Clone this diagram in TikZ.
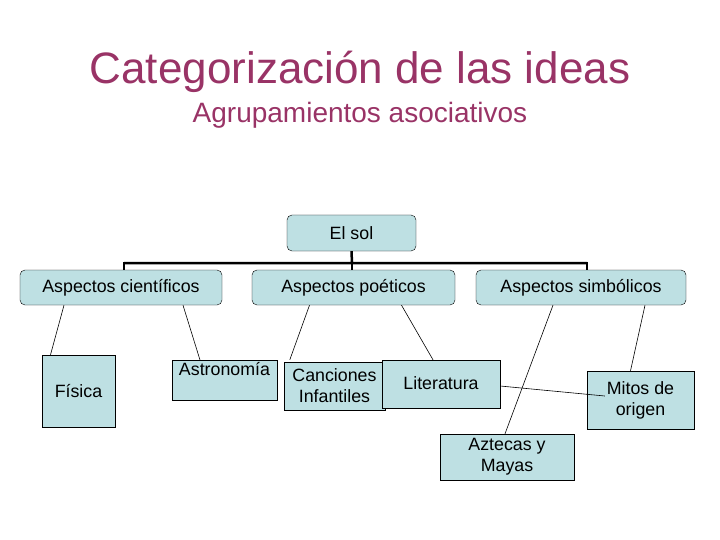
\documentclass[tikz,border=0pt]{standalone}
\usepackage{fontspec}
\setmainfont{Liberation Sans}
\begin{document}
\begin{tikzpicture}[x=1pt,y=-1pt,
  rbox/.style={draw=black,fill=boxc,rounded corners=5pt,inner sep=0pt,font=\fontsize{17.8}{20}\selectfont},
  sbox/.style={draw=black,fill=boxc,inner sep=0pt,align=center,font=\fontsize{17.8}{21}\selectfont},
  conn/.style={draw=black,line width=0.6pt}]
\definecolor{boxc}{HTML}{BEE0E3}
\definecolor{titc}{HTML}{993366}
\useasboundingbox (0,0) rectangle (720,540);
\node[text=titc,font=\fontsize{44}{48}\selectfont] (t) at (360,72) {Categorización de las ideas};
\node[text=titc,font=\fontsize{28}{30}\selectfont] (st) at (360,115) {Agrupamientos asociativos};
\node[rbox,minimum width=129,minimum height=36] (sol) at (351.5,233) {El sol};
\node[rbox,minimum width=202,minimum height=35] (sci) at (121,287.5) {Aspectos científicos};
\node[rbox,minimum width=203,minimum height=35] (poe) at (353.5,287.5) {Aspectos poéticos};
\node[rbox,minimum width=210,minimum height=35] (sim) at (581,287.5) {Aspectos simbólicos};
\draw[line width=2.5pt] (sol.south) -- (352,263) (124,263) -- (587,263);
\draw[line width=2.5pt] (124,261.75) -- (124,270) (587,261.75) -- (587,270) (352,263) -- (352,270);
\node[sbox,minimum width=73,minimum height=72] (fis) at (78.5,391) {Física};
\node[sbox,minimum width=105,minimum height=40,anchor=north west] (ast) at (172,360) {};
\node[anchor=north,font=\fontsize{17.8}{21}\selectfont,inner sep=0pt] (astt) at (224.5,362) {Astronomía};
\node[sbox,minimum width=101,minimum height=48] (can) at (334.5,386) {Canciones\\Infantiles};
\node[sbox,minimum width=118,minimum height=48] (lit) at (441,384) {};
\node[font=\fontsize{17.8}{21}\selectfont,inner sep=0pt] (litt) at (441,383) {Literatura};
\node[sbox,minimum width=107,minimum height=58] (mit) at (640.5,400) {Mitos de\\origen};
\node[sbox,minimum width=134,minimum height=46] (azt) at (507,457) {Aztecas y\\Mayas};
\draw[conn] ([xshift=-57pt]sci.south) -- ([xshift=-28pt]fis.north);
\draw[conn] ([xshift=62pt]sci.south) -- ([xshift=28pt]ast.north west);
\draw[conn] ([xshift=-44pt]poe.south) -- ([xshift=6pt,yshift=2pt]can.north west);
\draw[conn] ([xshift=48pt]poe.south) -- ([xshift=-8pt]lit.north);
\draw[conn] ([xshift=-28pt]sim.south) -- ([xshift=-2pt]azt.north);
\draw[conn] ([xshift=64pt]sim.south) -- ([xshift=-10pt]mit.north);
\draw[conn] ([yshift=-2pt]lit.east) -- ([xshift=18pt,yshift=4pt]mit.west);
\end{tikzpicture}
\end{document}
